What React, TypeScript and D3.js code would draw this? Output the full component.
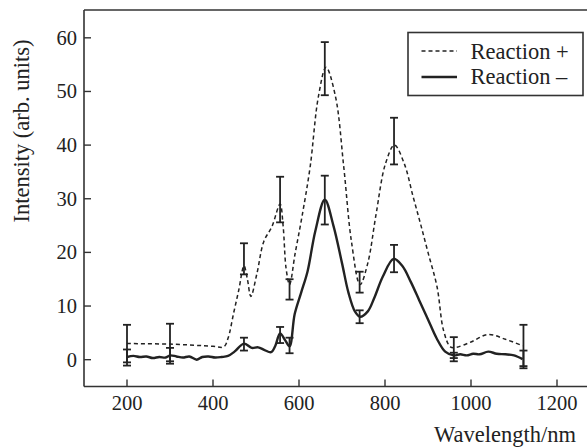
import React from "react";
import * as d3 from "d3";

const xTicks = [200, 400, 600, 800, 1000, 1200];
const yTicks = [0, 10, 20, 30, 40, 50, 60];

// Reaction – (solid)
const waveMinus = [200, 215, 230, 245, 260, 275, 290, 300, 315, 330, 345, 362, 375, 390, 405, 420, 435, 450, 472, 490, 505, 520, 535, 545, 556, 568, 578, 590, 605, 620, 638, 660, 680, 700, 715, 730, 742, 760, 775, 795, 820, 840, 860, 880, 900, 920, 940, 960, 975, 990, 1005, 1020, 1040, 1060, 1080, 1100, 1120];
const intensityMinus = [0.5, 0.7, 0.5, 0.6, 0.3, 0.5, 0.4, 0.8, 0.6, 0.4, 0.6, 0.0, 0.5, 0.6, 0.4, 0.5, 0.7, 1.5, 3.0, 2.2, 2.3, 1.8, 1.4, 2.6, 4.9, 3.6, 2.5, 8.5, 12.5, 16.5, 24, 29.8, 25, 18, 12.5, 9, 8.0, 9, 11.5, 15.5, 18.8, 17.5, 14.5, 11, 7.5, 4, 1.5, 0.8, 1.0, 0.8, 1.1, 1.0, 1.5, 1.1, 1.0, 0.8, 0.1];

// Reaction + (dashed)
const wavePlus = [200, 300, 400, 425, 435, 448, 460, 472, 480, 488, 502, 518, 537, 556, 563, 570, 578, 591, 607, 626, 645, 663, 685, 704, 722, 742, 760, 779, 801, 822, 845, 865, 882, 900, 921, 936, 952, 965, 1000, 1040, 1080, 1120];
const intensityPlus = [3.0, 2.9, 2.5, 2.4, 4, 8.7, 13, 17.5, 15, 11.8, 16, 22, 24.8, 29, 25, 17, 14, 19.8, 26.7, 36, 49, 54.5, 49, 36, 22, 14, 18, 27, 36.5, 40, 36.5, 30.5, 25.5, 20, 13.6, 5.5, 2.4, 2.3, 3.3, 4.7, 3.8, 2.6];

// Error bars
const errWave = [200, 300, 472, 556, 578, 660, 741, 821, 960, 1122];
const errPlusLow = [-0.5, -0.3, 15.9, 25.6, 11.2, 49.3, 12.5, 36.4, 0.3, -1.2];
const errPlusHigh = [6.5, 6.7, 21.7, 34.1, 15.0, 59.2, 16.4, 45.1, 4.2, 6.5];
const errMinusLow = [-1.1, -0.75, 1.7, 3.1, 1.2, 25.2, 6.8, 16.3, -0.3, -1.6];
const errMinusHigh = [1.9, 2.2, 4.1, 6.1, 4.1, 34.3, 9.2, 21.4, 1.3, 1.7];

const seriesNames = ["Reaction +", "Reaction –"];

const W = 587;
const H = 447;
const INK = "#222";
const FONT = '"Liberation Serif"';

export default function App() {
  const x = d3.scaleLinear().domain([100, 1300]).range([84, 600]);
  const y = d3.scaleLinear().domain([-5, 65]).range([386.5, 11]);

  const line = d3
    .line<[number, number]>()
    .x((d) => x(d[0]))
    .y((d) => y(d[1]))
    .curve(d3.curveCatmullRom.alpha(0.5));

  const plusPts = wavePlus.map((w, i) => [w, intensityPlus[i]] as [number, number]);
  const minusPts = waveMinus.map((w, i) => [w, intensityMinus[i]] as [number, number]);

  const left = 84;
  const top = 10;
  const bottom = 386.5;
  const tstyle = { fontFamily: FONT };

  const errBar = (w: number, lo: number, hi: number, key: string) => {
    const cx = x(w);
    const cap = 4;
    return (
      <g key={key} stroke={INK} strokeWidth={1.8}>
        <line x1={cx} x2={cx} y1={y(lo)} y2={y(hi)} />
        <line x1={cx - cap} x2={cx + cap} y1={y(lo)} y2={y(lo)} />
        <line x1={cx - cap} x2={cx + cap} y1={y(hi)} y2={y(hi)} />
      </g>
    );
  };

  return (
    <svg
      width={W}
      height={H}
      style={{ position: "absolute", left: 0, top: 0, background: "#fff" }}
    >
      <rect x={0} y={0} width={W} height={H} fill="#fff" />
      {/* axes frame */}
      <g stroke="#333" strokeWidth={1.6} fill="none">
        <line x1={left} x2={W + 5} y1={top} y2={top} />
        <line x1={left} x2={left} y1={top} y2={bottom} />
        <line x1={left} x2={W + 5} y1={bottom} y2={bottom} />
      </g>
      {/* y ticks */}
      {yTicks.map((t) => (
        <g key={"y" + t}>
          <line x1={left} x2={left + 7} y1={y(t)} y2={y(t)} stroke="#333" strokeWidth={1.4} />
          <text x={left - 7} y={y(t)} dy="0.34em" textAnchor="end" fontSize={20.5} fill={INK} style={tstyle}>
            {t}
          </text>
        </g>
      ))}
      {/* x ticks */}
      {xTicks.map((t) => (
        <g key={"x" + t}>
          <line x1={x(t)} x2={x(t)} y1={bottom} y2={bottom - 7} stroke="#333" strokeWidth={1.4} />
          <text x={x(t)} y={410} textAnchor="middle" fontSize={20.5} fill={INK} style={tstyle}>
            {t}
          </text>
        </g>
      ))}
      {/* axis labels */}
      <text
        transform={`translate(29, 131) rotate(-90)`}
        textAnchor="middle"
        fontSize={22.5}
        fill={INK}
        style={tstyle}
      >
        Intensity (arb. units)
      </text>
      <text x={576} y={442} textAnchor="end" fontSize={22.5} fill={INK} style={tstyle}>
        Wavelength/nm
      </text>

      {/* curves */}
      <path d={line(plusPts) || ""} fill="none" stroke={INK} strokeWidth={1.5} strokeDasharray="4,3" />
      <path d={line(minusPts) || ""} fill="none" stroke={INK} strokeWidth={2.4} />

      {/* error bars */}
      {errWave.map((w, i) => errBar(w, errPlusLow[i], errPlusHigh[i], "p" + i))}
      {errWave.map((w, i) => errBar(w, errMinusLow[i], errMinusHigh[i], "m" + i))}

      {/* legend */}
      <rect x={408} y={32.5} width={175} height={63} fill="#fff" stroke="#333" strokeWidth={1.6} />
      <line x1={421.5} x2={457} y1={51} y2={51} stroke={INK} strokeWidth={1.5} strokeDasharray="4,3" />
      <line x1={421.5} x2={457} y1={77} y2={77} stroke={INK} strokeWidth={2.4} />
      <text x={470.5} y={58.5} fontSize={22.5} fill={INK} style={tstyle}>
        {seriesNames[0]}
      </text>
      <text x={470.5} y={84} fontSize={22.5} fill={INK} style={tstyle}>
        {seriesNames[1]}
      </text>
    </svg>
  );
}
